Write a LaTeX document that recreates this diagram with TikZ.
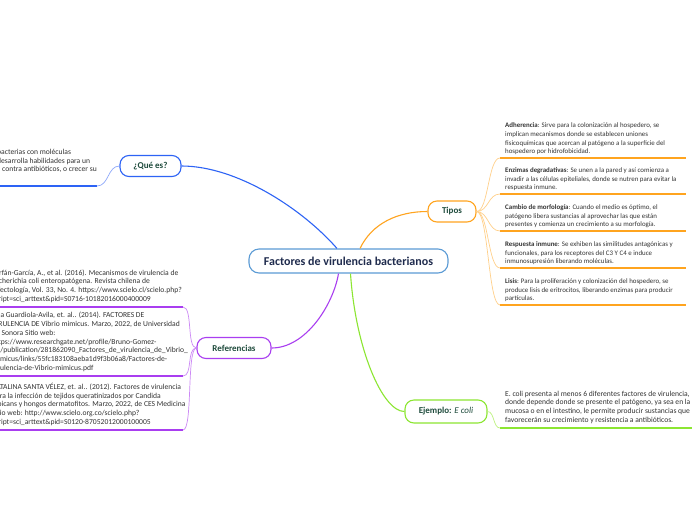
\documentclass[tikz,border=0pt]{standalone}
\usepackage{fontspec}
\setmainfont{Carlito}
\definecolor{navy}{HTML}{1F2B4D}
\definecolor{tgreen}{HTML}{1E4B3C}
\definecolor{mainb}{HTML}{5B9BD5}
\definecolor{cblue}{HTML}{2D63F5}
\definecolor{lblue}{HTML}{8FA9FA}
\definecolor{corange}{HTML}{FFA41F}
\definecolor{lorange}{HTML}{FFD08A}
\definecolor{cpurple}{HTML}{A93EF0}
\definecolor{lpurple}{HTML}{CC88F5}
\definecolor{cgreen}{HTML}{8CE632}
\definecolor{lgreen}{HTML}{BDF27F}
\definecolor{bodyc}{HTML}{333333}
\tikzset{
  mainbox/.style={draw=mainb, line width=1.1pt, rounded corners=10pt, fill=white,
    minimum width=199pt, minimum height=24pt, inner sep=0pt,
    font=\fontsize{12}{14}\selectfont\bfseries, text=navy},
  topic/.style={rounded corners=9pt, fill=white, line width=1.1pt, minimum height=21pt,
    inner sep=0pt, font=\fontsize{9}{11}\selectfont\bfseries, text=tgreen},
  bodytext/.style={font=\fontsize{6.9}{8.6}\selectfont, text=bodyc, align=left, inner sep=0pt},
  bodybig/.style={font=\fontsize{7.6}{8.8}\selectfont, text=bodyc, align=left, inner sep=0pt},
  uline/.style={line width=1.3pt},
  branch/.style={line width=0.7pt},
  mainlink/.style={line width=1.1pt}
}
\begin{document}
\begin{tikzpicture}[x=1pt,y=-1pt]
\useasboundingbox[fill=white] (0,0) rectangle (696,520);

% main nodes
\node[mainbox] (c) at (348.5,261) {Factores de virulencia bacterianos};
\node[topic, draw=cblue, minimum width=61pt] (q) at (150.5,166) {¿Qué es?};
\node[topic, draw=corange, minimum width=48pt] (t) at (452,211.5) {Tipos};
\node[topic, draw=cpurple, minimum width=74pt] (r) at (234,348) {Referencias};
\node[topic, draw=cgreen, minimum width=82pt, minimum height=23pt] (e) at (446,411.5) {Ejemplo: {\mdseries\itshape E coli}};

% attachment points on the central node
\coordinate (cq) at ([xshift=-11.5pt]c.north);
\coordinate (ct) at ([xshift=11.5pt]c.north);
\coordinate (cr) at ([xshift=-10pt]c.south);
\coordinate (ce) at ([xshift=2pt]c.south);

\draw[mainlink, cblue] (cq) .. controls +(-35,-40) and +(55,0) .. (q.east);
\draw[mainlink, corange] (ct) .. controls +(12,-25) and +(-30,0) .. (t.west);
\draw[mainlink, cpurple] (cr) .. controls +(-5,30) and +(35,0) .. (r.east);
\draw[mainlink, cgreen] (ce) .. controls +(5,75) and +(-22,0) .. (e.west);

% ---- Qué es ----
\coordinate (qa) at (-5,186);
\coordinate (qb) at (97,186);
\node[bodybig, anchor=south west] (qtx) at (-3,173) {bacterias con moléculas\\desarrolla habilidades para un\\\hspace*{5pt}contra antibióticos, o crecer su};
\draw[uline, cblue] (qa) -- (qb);
\draw[branch, lblue] (q.west) .. controls +(-12,0) and +(12,0) .. (qb);

% ---- Tipos ----
\foreach \n/\yy in {1/158, 2/194, 3/231, 4/268, 5/305}{
  \coordinate (ta\n) at (500,\yy);
  \coordinate (tb\n) at (686,\yy);
}
\node[bodytext, anchor=south west] (t1) at (505,155) {\textbf{Adherencia}: Sirve para la colonización al hospedero, se\\implican mecanismos donde se establecen uniones\\fisicoquímicas que acercan al patógeno a la superficie del\\hospedero por hidrofobicidad.};
\node[bodytext, anchor=south west] (t2) at (505,191) {\textbf{Enzimas degradativas}: Se unen a la pared y así comienza a\\invadir a las células epiteliales, donde se nutren para evitar la\\respuesta inmune.};
\node[bodytext, anchor=south west] (t3) at (505,228) {\textbf{Cambio de morfología}: Cuando el medio es óptimo, el\\patógeno libera sustancias al aprovechar las que están\\presentes y comienza un crecimiento a su morfología.};
\node[bodytext, anchor=south west] (t4) at (505,265) {\textbf{Respuesta inmune}: Se exhiben las similitudes antagónicas y\\funcionales, para los receptores del C3 Y C4 e induce\\inmunosupresión liberando moléculas.};
\node[bodytext, anchor=south west] (t5) at (505,302) {\textbf{Lisis}: Para la proliferación y colonización del hospedero, se\\produce lisis de eritrocitos, liberando enzimas para producir\\partículas.};
\foreach \n in {1,...,5}{
  \draw[uline, corange] (ta\n) -- (tb\n);
  \draw[branch, lorange] (t.east) .. controls +(12,0) and +(-12,0) .. (ta\n);
}

% ---- Ejemplo ----
\coordinate (ea) at (500,428);
\coordinate (eb) at (692,428);
\node[bodybig, anchor=south west] (etx) at (505,424) {E. coli presenta al menos 6 diferentes factores de virulencia,\\donde depende donde se presente el patógeno, ya sea en la\\mucosa o en el intestino, le permite producir sustancias que\\favorecerán su crecimiento y resistencia a antibióticos.};
\draw[uline, cgreen] (ea) -- (eb);
\draw[branch, lgreen] (e.east) .. controls +(7,0) and +(-7,0) .. (ea);

% ---- Referencias ----
\coordinate (ra1) at (-5,307);  \coordinate (rb1) at (183,307);
\coordinate (ra2) at (-5,376);  \coordinate (rb2) at (183,376);
\coordinate (ra3) at (-5,430);  \coordinate (rb3) at (183,430);
\node[bodybig, anchor=south west] (r1) at (-8,303) {Farfán-García, A., et al. (2016). Mecanismos de virulencia de\\Escherichia coli enteropatógena. Revista chilena de\\Infectología, Vol. 33, No. 4. https://www.scielo.cl/scielo.php?\\script=sci\_arttext\&pid=S0716-10182016000400009};
\node[bodybig, anchor=south west] (r2) at (-8,372) {Ana Guardiola-Avila, et. al.. (2014). FACTORES DE\\VIRULENCIA DE Vibrio mimicus. Marzo, 2022, de Universidad\\de Sonora Sitio web:\\https://www.researchgate.net/profile/Bruno-Gomez-\\Gil/publication/281862090\_Factores\_de\_virulencia\_de\_Vibrio\_\\mimicus/links/55fc183108aeba1d9f3b06a8/Factores-de-\\virulencia-de-Vibrio-mimicus.pdf};
\node[bodybig, anchor=south west] (r3) at (-8,426) {CATALINA SANTA VÉLEZ, et. al.. (2012). Factores de virulencia\\para la infección de tejidos queratinizados por Candida\\albicans y hongos dermatofitos. Marzo, 2022, de CES Medicina\\Sitio web: http://www.scielo.org.co/scielo.php?\\script=sci\_arttext\&pid=S0120-87052012000100005};
\foreach \n in {1,2,3}{
  \draw[uline, cpurple] (ra\n) -- (rb\n);
  \draw[branch, lpurple] (r.west) .. controls +(-10,0) and +(10,0) .. (rb\n);
}
\end{tikzpicture}
\end{document}
